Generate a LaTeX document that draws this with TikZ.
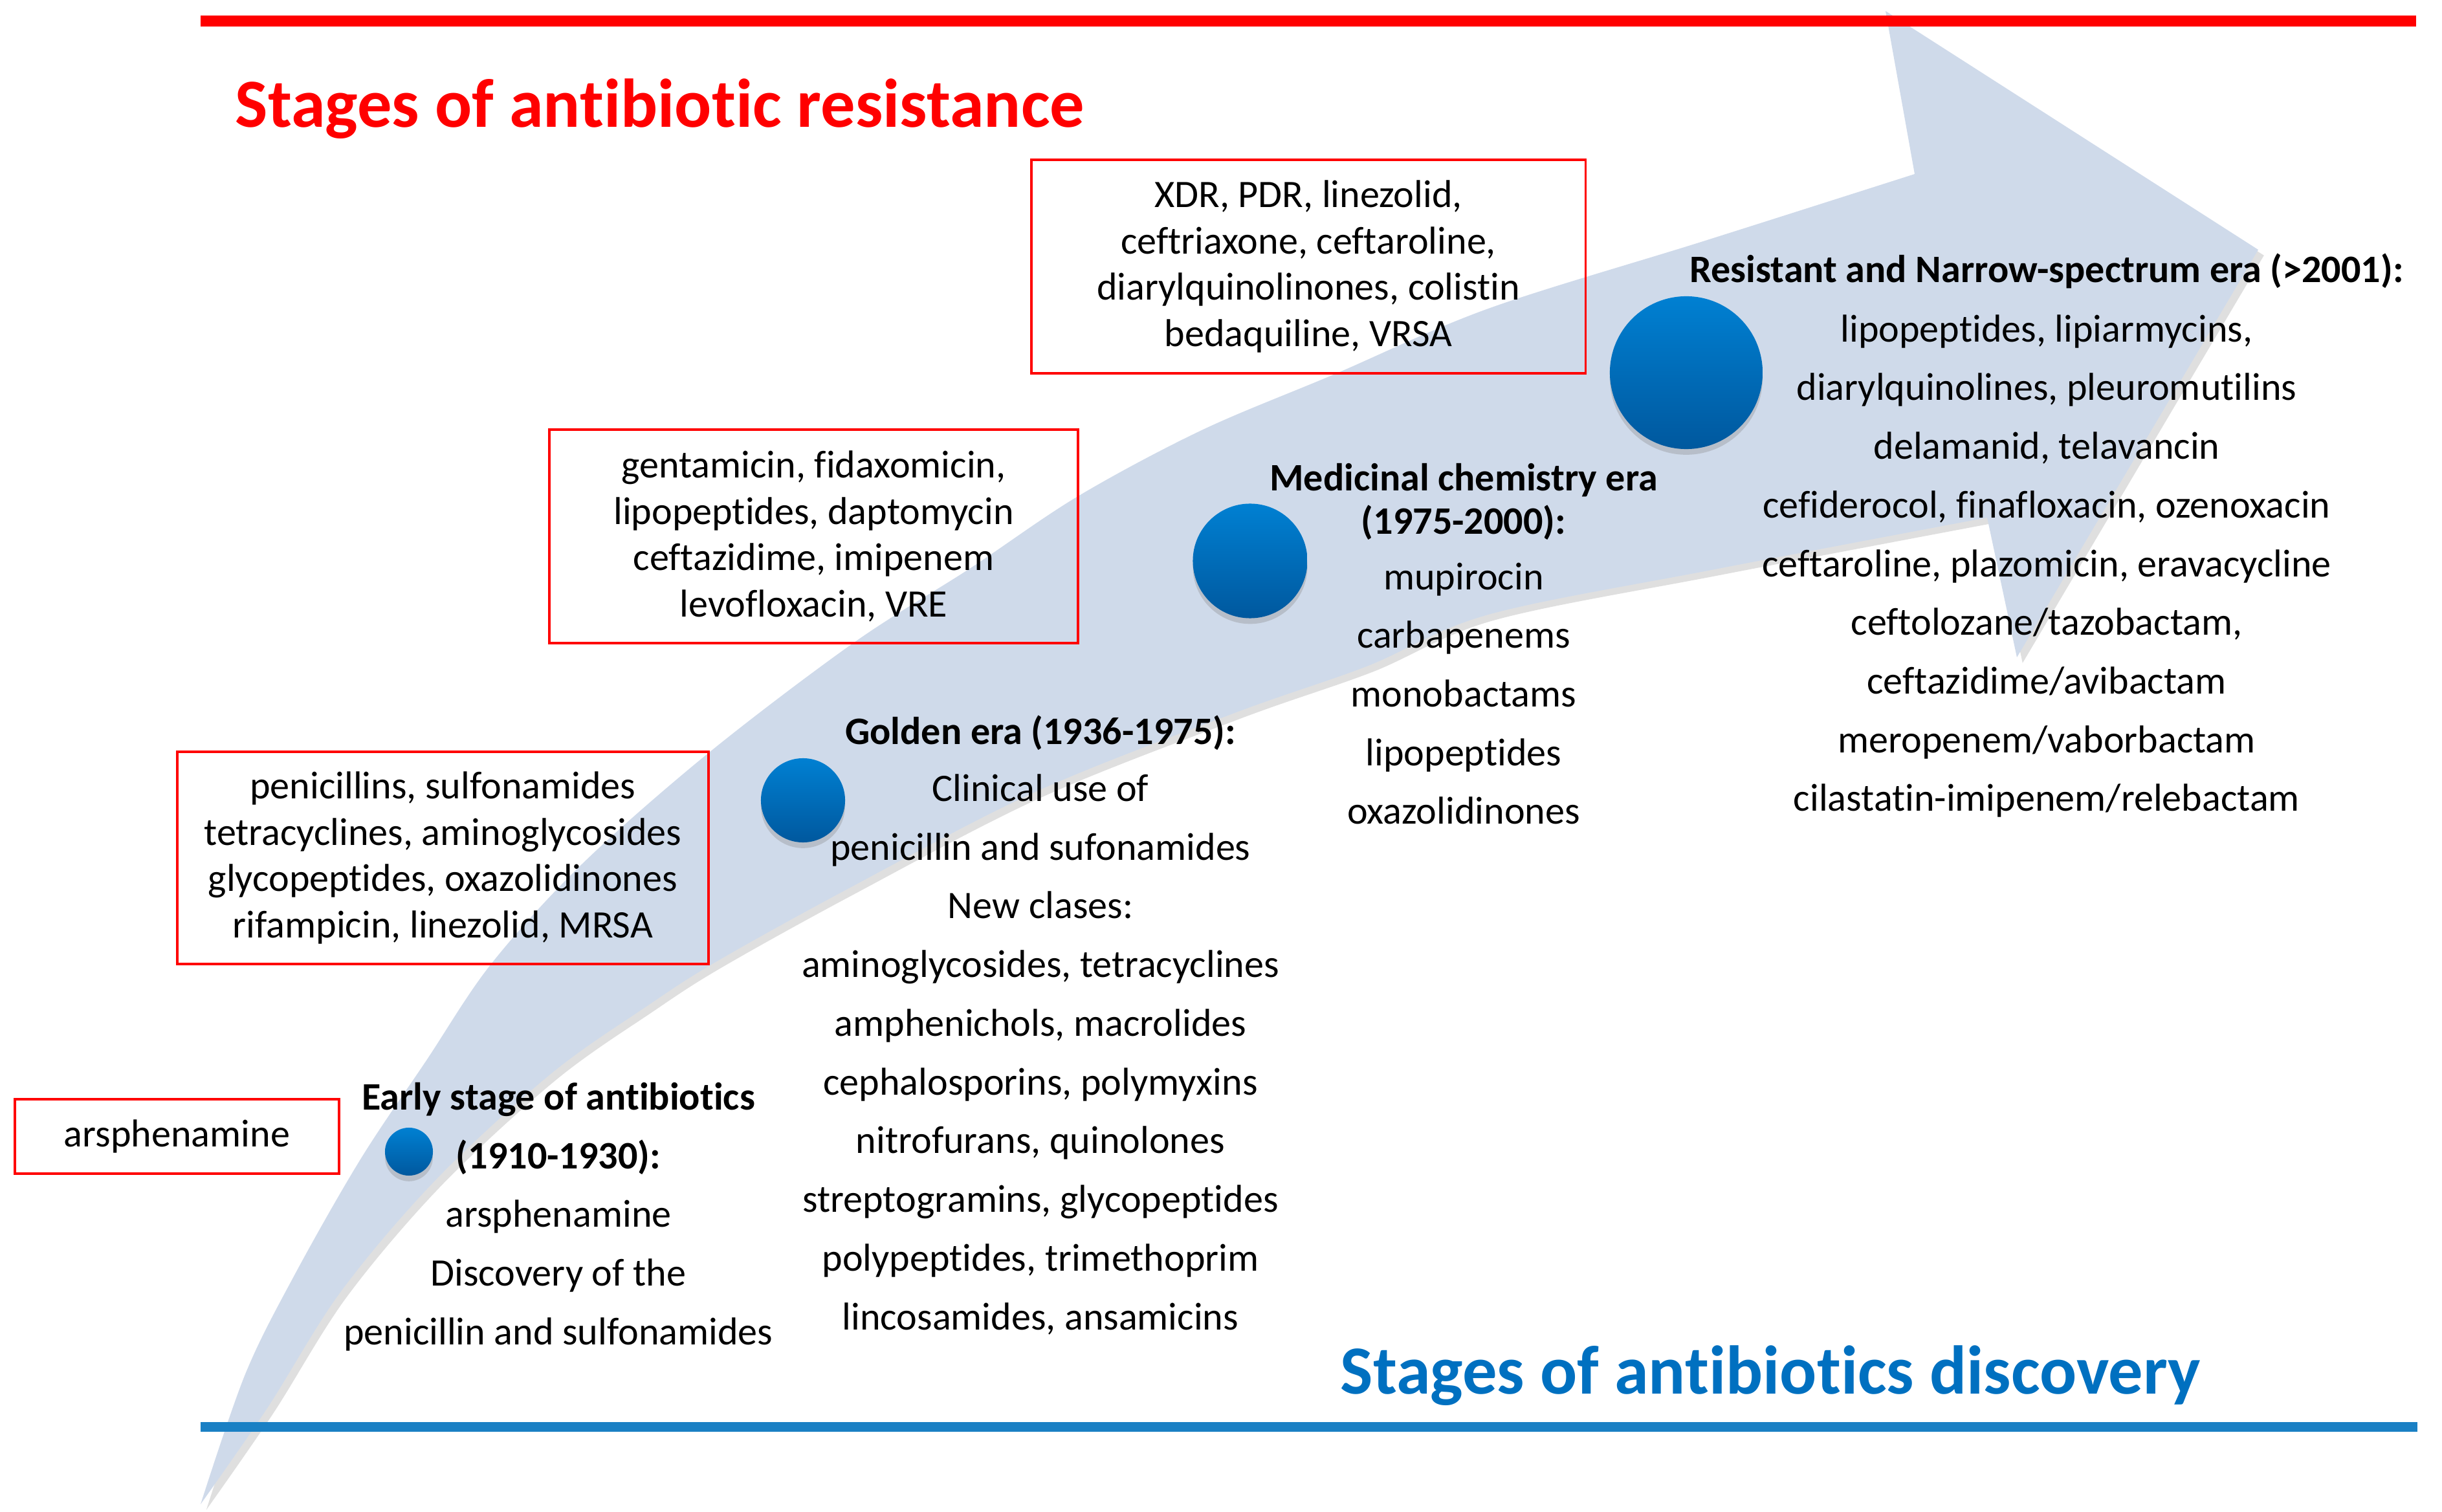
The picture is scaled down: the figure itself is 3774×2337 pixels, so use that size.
\documentclass[tikz,border=0pt]{standalone}
\usepackage{fontspec}
\setmainfont{Carlito}[Ligatures=NoCommon]
\usetikzlibrary{shadows}

\definecolor{arrowfill}{RGB}{207,218,234}
\definecolor{titleblue}{RGB}{0,112,192}
\definecolor{lineblue}{RGB}{26,128,196}
\definecolor{balltop}{RGB}{0,128,210}
\definecolor{ballbot}{RGB}{0,88,158}

\tikzset{
	era/.style={align=center, inner sep=0pt, anchor=base, font=\fontsize{17.1}{25.8}\selectfont},
	eratitle/.style={era, font=\fontsize{17.1}{25.8}\selectfont\bfseries},
	drugbox/.style={draw=red, line width=1pt, align=center, inner sep=0pt, font=\fontsize{17.1}{20.3}\selectfont},
	ball/.style={circle, inner sep=0pt, top color=balltop, bottom color=ballbot, drop shadow={shadow xshift=0pt, shadow yshift=-2.5pt, opacity=0.3}},
	bigtitle/.style={inner sep=0pt, anchor=base west, font=\fontsize{30.3}{36}\selectfont\bfseries}
}

\begin{document}
\begin{tikzpicture}[x=0.01cm, y=-0.01cm]
	\useasboundingbox (0,0) rectangle (3774,2337);
	
	\fill[arrowfill, drop shadow={shadow xshift=2.5pt, shadow yshift=-2.5pt, opacity=0.25}]
		plot[smooth, tension=0.55] coordinates {(310,2325) (379,2124) (455,1971) (557,1792) (659,1639) (759,1490) (900,1335) (1096,1163) (1320,993) (1500,878) (1666,767) (1857,665) (2061,579) (2300,477) (2632,373) (2959,269)}
		-- (2914,17) -- (3490,386) -- (3117,1016)
		-- plot[smooth, tension=0.55] coordinates {(3071,800) (2650,880) (2300,950) (2112,1030) (1908,1102) (1600,1224) (1310,1374) (1106,1487) (1000,1555) (851,1660) (674,1823) (527,1996) (414,2175) (310,2325)} -- cycle;
	
	\node[drugbox, minimum width=5.01cm, minimum height=1.15cm] (boxA) at (273.5,1756.5) {arsphenamine};
	\node[drugbox, minimum width=8.21cm, minimum height=3.28cm] (boxB) at (684.5,1326) {penicillins, sulfonamides\\tetracyclines, aminoglycosides\\glycopeptides, oxazolidinones\\rifampicin, linezolid, MRSA};
	\node[drugbox, minimum width=8.17cm, minimum height=3.30cm] (boxC) at (1257.5,829) {gentamicin, fidaxomicin,\\lipopeptides, daptomycin\\ceftazidime, imipenem\\levofloxacin, VRE};
	\node[drugbox, minimum width=8.56cm, minimum height=3.30cm] (boxD) at (2022,412) {XDR, PDR, linezolid,\\ceftriaxone, ceftaroline,\\diarylquinolinones, colistin\\bedaquiline, VRSA};
	
	\node[ball, minimum size=0.74cm] (ballA) at (632,1780) {};
	\node[ball, minimum size=1.30cm] (ballB) at (1241,1237) {};
	\node[ball, minimum size=1.77cm] (ballC) at (1932,867) {};
	\node[ball, minimum size=2.36cm] (ballD) at (2606,576) {};
	
	\node[eratitle] (earlyT) at (863,1806) {Early stage of antibiotics\\(1910-1930):};
	\node[era] (early) at (863,2078) {arsphenamine\\Discovery of the\\penicillin and sulfonamides};
	
	\node[eratitle] (goldenT) at (1608,1150) {Golden era (1936-1975):};
	\node[era] (golden) at (1608,2055) {Clinical use of\\penicillin and sufonamides\\New clases:\\aminoglycosides, tetracyclines\\amphenichols, macrolides\\cephalosporins, polymyxins\\nitrofurans, quinolones\\streptogramins, glycopeptides\\polypeptides, trimethoprim\\lincosamides, ansamicins};
	
	\node[eratitle, font=\fontsize{17.1}{19.1}\selectfont\bfseries] (mediT) at (2262,826) {Medicinal chemistry era\\(1975-2000):};
	\node[era] (medi) at (2262,1274) {mupirocin\\carbapenems\\monobactams\\lipopeptides\\oxazolidinones};
	
	\node[eratitle] (narrowT) at (3163,437) {Resistant and Narrow-spectrum era (>2001):};
	\node[era] (narrow) at (3163,1254) {lipopeptides, lipiarmycins,\\diarylquinolines, pleuromutilins\\delamanid, telavancin\\cefiderocol, finafloxacin, ozenoxacin\\ceftaroline, plazomicin, eravacycline\\ceftolozane/tazobactam,\\ceftazidime/avibactam\\meropenem/vaborbactam\\cilastatin-imipenem/relebactam};
	
	\draw[red, line width=0.17cm] (310,32.5) -- (3734,32.5);
	\draw[lineblue, line width=0.15cm] (310,2205.5) -- (3736,2205.5);
	
	\node[bigtitle, red] (resist) at (363,197) {Stages of antibiotic resistance};
	\node[bigtitle, titleblue] (discov) at (2071,2154) {Stages of antibiotics discovery};
\end{tikzpicture}
\end{document}
